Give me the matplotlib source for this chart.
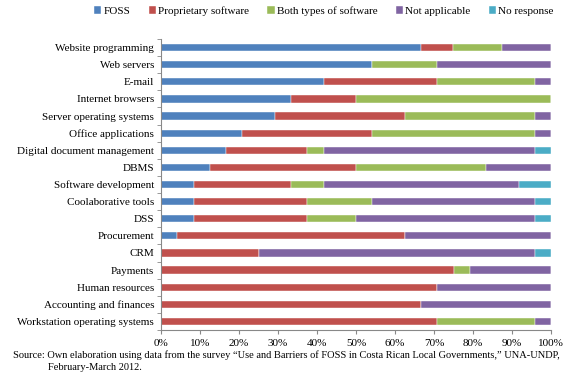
import numpy as np
import matplotlib.pyplot as plt

categories = ["Website programming", "Web servers", "E-mail", "Internet browsers",
              "Server operating systems", "Office applications",
              "Digital document management", "DBMS", "Software development",
              "Coolaborative tools", "DSS", "Procurement", "CRM", "Payments",
              "Human resources", "Accounting and finances",
              "Workstation operating systems"]

# counts out of 24 municipalities
foss = [16, 13, 10, 8, 7, 5, 4, 3, 2, 2, 2, 1, 0, 0, 0, 0, 0]
proprietary = [2, 0, 7, 4, 8, 8, 5, 9, 6, 7, 7, 14, 6, 18, 17, 16, 17]
both = [3, 4, 6, 12, 8, 10, 1, 8, 2, 4, 3, 0, 0, 1, 0, 0, 6]
not_applicable = [3, 7, 1, 0, 1, 1, 13, 4, 12, 10, 11, 9, 17, 5, 7, 8, 1]
no_response = [0, 0, 0, 0, 0, 0, 1, 0, 2, 1, 1, 0, 1, 0, 0, 0, 0]

series = [("FOSS", foss, "#4F81BD"),
          ("Proprietary software", proprietary, "#C0504D"),
          ("Both types of software", both, "#9BBB59"),
          ("Not applicable", not_applicable, "#8064A2"),
          ("No response", no_response, "#4BACC6")]

plt.rcParams['font.family'] = 'Liberation Serif'

fig = plt.figure(figsize=(5.8, 3.82), dpi=100)
ax = fig.add_axes([161/580, 1 - 330/382, 390/580, 291/382])

y = np.arange(len(categories))
left = np.zeros(len(categories))
for name, vals, col in series:
    pct = np.array(vals) / 24 * 100
    ax.barh(y, pct, left=left, height=0.42, color=col, label=name,
            edgecolor='white', linewidth=0.3)
    left += pct

ax.set_ylim(len(categories) - 0.5, -0.5)
ax.set_xlim(0, 100)
ax.set_yticks(y)
ax.set_yticklabels(categories, fontsize=8)
ax.set_yticks(np.arange(-0.5, len(categories)), minor=True)
ax.tick_params(axis='y', which='major', length=0, pad=5)
ax.tick_params(axis='y', which='minor', length=3, color='#888888')
ax.set_xticks(np.arange(0, 101, 10))
ax.set_xticklabels([f"{v}%" for v in range(0, 101, 10)], fontsize=8)
ax.tick_params(axis='x', length=3, color='#888888')
for s in ['top', 'right']:
    ax.spines[s].set_visible(False)
for s in ['left', 'bottom']:
    ax.spines[s].set_color('#888888')
    ax.spines[s].set_linewidth(0.8)

fig.legend(loc='center left', bbox_to_anchor=(94/580, 1 - 11/382), ncol=5,
           frameon=False, fontsize=8, handlelength=0.65, handleheight=0.65,
           handletextpad=0.2, columnspacing=1.65, borderaxespad=0, borderpad=0)

fig.text(13/580, 1 - 355/382,
         "Source: Own elaboration using data from the survey \u201cUse and Barriers of FOSS in Costa Rican Local Governments,\u201d UNA-UNDP,",
         fontsize=7.5, va='center')
fig.text(48/580, 1 - 367/382, "February-March 2012.", fontsize=7.5, va='center')

fig.savefig("out.png", dpi=100)
